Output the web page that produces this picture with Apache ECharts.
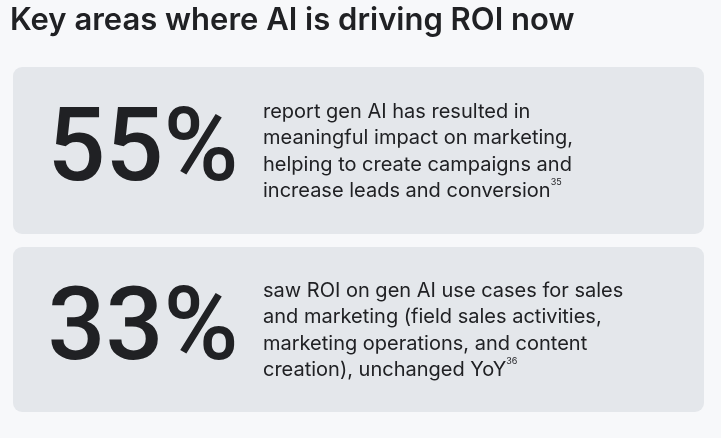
<!DOCTYPE html>
<html><head><meta charset="utf-8">
<script src="https://cdn.jsdelivr.net/npm/echarts@6/dist/echarts.min.js"></script>
<style>html,body{margin:0;padding:0;background:#f7f8fa}#c{width:721px;height:438px}</style>
</head><body><div id="c"></div>
<script>
const title = "Key areas where AI is driving ROI now";
const values = [55, 33];
const descriptions = [
  ["report gen AI has resulted in", "meaningful impact on marketing,", "helping to create campaigns and", "increase leads and conversion"],
  ["saw ROI on gen AI use cases for sales", "and marketing (field sales activities,", "marketing operations, and content", "creation), unchanged YoY"]
];
const footnotes = ["35", "36"];

const chart = echarts.init(document.getElementById('c'));
const font = "Inter, 'Noto Sans', sans-serif";
const cards = [{top: 67, h: 167}, {top: 247, h: 165}];
const graphic = [{
  type: 'text', left: 10, top: 5,
  style: {text: title, font: "600 31px " + font, fill: '#202124'}
}];
values.forEach((v, i) => {
  const c = cards[i];
  graphic.push({type: 'rect', shape: {x: 13, y: c.top, width: 691, height: c.h, r: 9}, style: {fill: '#e4e7eb'}});
  graphic.push({type: 'text', x: 143, y: c.top + c.h / 2 + 4,
    style: {text: v + '%', font: "500 102px Roboto, sans-serif", fill: '#202124', align: 'center', verticalAlign: 'middle'}});
  const lines = descriptions[i].slice();
  lines[lines.length - 1] = lines[lines.length - 1] + '{sup|' + footnotes[i] + '}';
  graphic.push({type: 'text', x: 263, y: c.top + c.h / 2 + 1,
    style: {text: lines.join('\n'), font: "400 20px " + font, fill: '#202124', lineHeight: 26.5,
      verticalAlign: 'middle',
      rich: {sup: {fontSize: 9, fontFamily: font, fill: '#202124', verticalAlign: 'top', padding: [0, 0, 10, 0]}}}});
});
chart.setOption({backgroundColor: '#f7f8fa', graphic});
</script></body></html>
